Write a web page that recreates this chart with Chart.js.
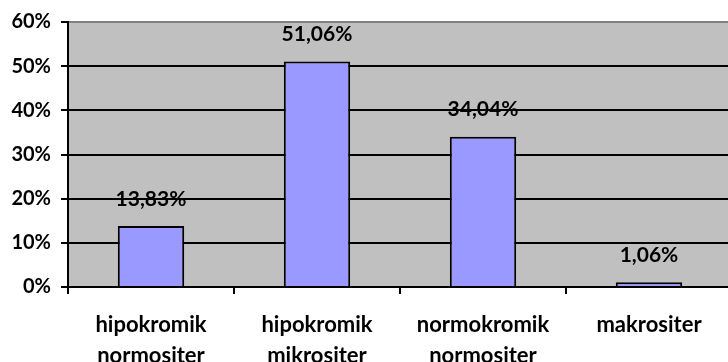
<!DOCTYPE html>
<html lang="id">
<head>
    <meta charset="UTF-8">
    <title>Jenis Anemia</title>
    <script src="https://cdn.jsdelivr.net/npm/chart.js"></script>
    <style>
        html, body {
            margin: 0;
            padding: 0;
            background: #ffffff;
            overflow: hidden;
        }
        #wrap {
            width: 732px;
            height: 362px;
        }
    </style>
</head>
<body>
    <div id="wrap"><canvas id="chart"></canvas></div>

    <script>
        const categories = [
            ['hipokromik', 'normositer'],
            ['hipokromik', 'mikrositer'],
            ['normokromik', 'normositer'],
            ['makrositer']
        ];
        const values = [13.83, 51.06, 34.04, 1.06];
        const yTicks = [0, 10, 20, 30, 40, 50, 60];

        const FONT = 'Lato, "Liberation Sans", Arial, sans-serif';

        const plotBackground = {
            id: 'plotBackground',
            beforeDraw(chart) {
                const a = chart.chartArea;
                const c = chart.ctx;
                c.save();
                c.fillStyle = '#c0c0c0';
                c.fillRect(a.left, a.top, a.right - a.left, a.bottom - a.top);
                c.restore();
            }
        };

        const valueLabels = {
            id: 'valueLabels',
            afterDatasetsDraw(chart) {
                const c = chart.ctx;
                const meta = chart.getDatasetMeta(0);
                c.save();
                c.font = 'bold 21px ' + FONT;
                c.fillStyle = '#000000';
                c.textAlign = 'center';
                c.textBaseline = 'middle';
                meta.data.forEach((bar, i) => {
                    const txt = values[i].toFixed(2).replace('.', ',') + '%';
                    c.fillText(txt, bar.x, bar.y - 27);
                });
                c.restore();
            }
        };

        const ctx = document.getElementById('chart').getContext('2d');
        new Chart(ctx, {
            type: 'bar',
            data: {
                labels: categories,
                datasets: [{
                    data: values,
                    backgroundColor: '#9999ff',
                    borderColor: '#000000',
                    borderWidth: 2,
                    barPercentage: 0.4,
                    categoryPercentage: 1
                }]
            },
            options: {
                responsive: true,
                maintainAspectRatio: false,
                animation: false,
                layout: { padding: { top: 21, right: 0, left: 0, bottom: 0 } },
                plugins: {
                    legend: { display: false },
                    tooltip: { enabled: false }
                },
                scales: {
                    x: {
                        grid: {
                            offset: true,
                            drawOnChartArea: false,
                            color: '#000000',
                            lineWidth: 2,
                            tickLength: 7
                        },
                        border: { color: '#000000', width: 2 },
                        ticks: {
                            color: '#000000',
                            font: { family: FONT, size: 22, weight: 'bold', lineHeight: 1.4 },
                            padding: 16,
                            maxRotation: 0,
                            autoSkip: false
                        },
                        afterFit(scale) { scale.height = 75; }
                    },
                    y: {
                        min: 0,
                        max: 60,
                        afterBuildTicks(scale) {
                            scale.ticks = yTicks.map(v => ({ value: v }));
                        },
                        grid: {
                            color: (c) => c.tick && c.tick.value === 60 ? '#808080' : '#000000',
                            lineWidth: 2,
                            tickLength: 7,
                            tickColor: '#000000'
                        },
                        border: { color: '#000000', width: 2 },
                        ticks: {
                            color: '#000000',
                            font: { family: FONT, size: 20, weight: 'bold' },
                            padding: 10,
                            callback: (v) => v + '%'
                        },
                        afterFit(scale) { scale.width = 68; }
                    }
                }
            },
            plugins: [plotBackground, valueLabels]
        });
    </script>
</body>
</html>
